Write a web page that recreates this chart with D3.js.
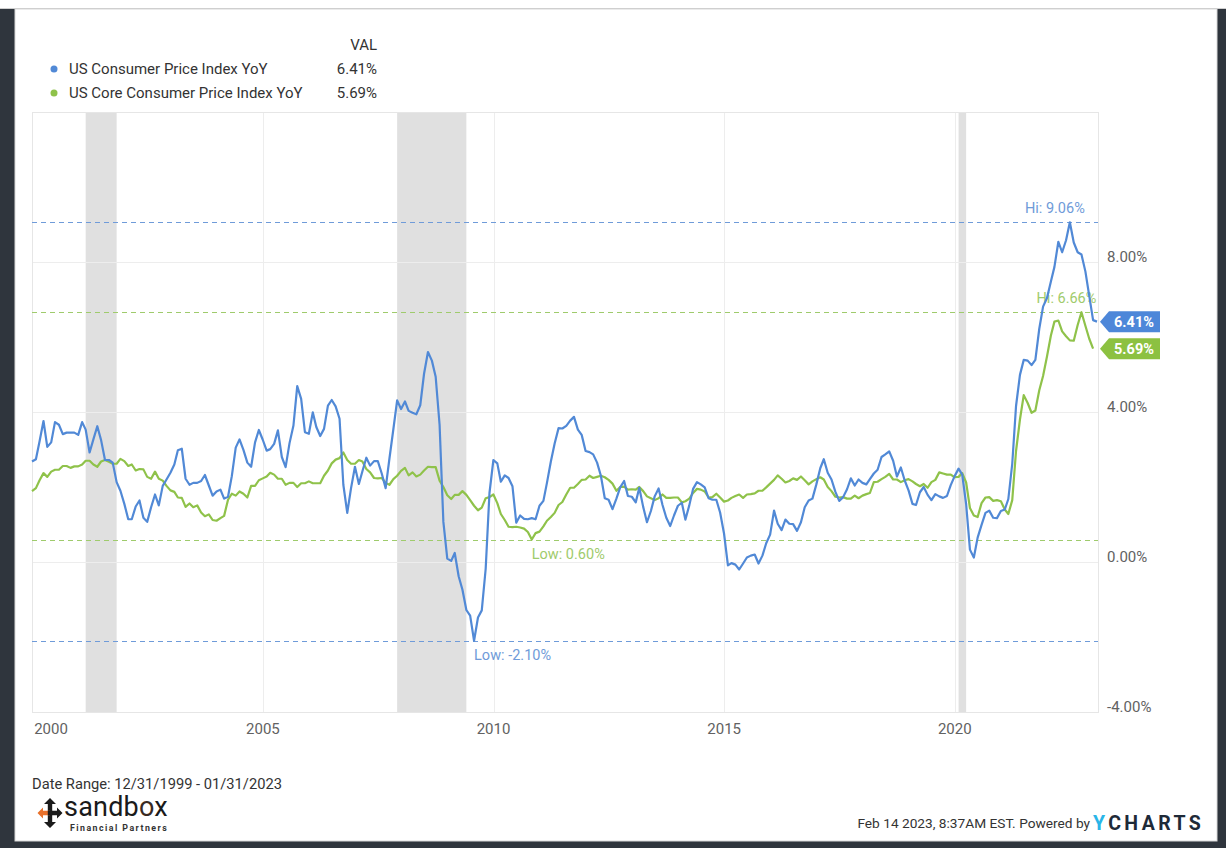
<!DOCTYPE html>
<html><head><meta charset="utf-8">
<script src="https://cdn.jsdelivr.net/npm/d3@7"></script>
<style>
html,body{margin:0;padding:0;background:#fff;}
svg{display:block;font-family:Roboto,"Noto Sans",sans-serif;}
</style></head><body>
<svg id="c" width="1226" height="848"></svg>
<script>
// ---- data ----
const seriesNames = ["US Consumer Price Index YoY", "US Core Consumer Price Index YoY"];
const startMonth = [1999, 11]; // Dec 1999, values at month end
const cpiYoY = [
 2.68,
 2.74,3.22,3.76,3.07,3.19,3.73,3.66,3.41,3.45,3.45,3.45,3.39,
 3.73,3.53,2.92,3.27,3.62,3.25,2.72,2.72,2.65,2.13,1.90,1.55,
 1.14,1.14,1.48,1.64,1.18,1.07,1.46,1.80,1.51,2.03,2.20,2.38,
 2.60,2.98,3.02,2.22,2.06,2.11,2.11,2.16,2.32,2.04,1.77,1.88,
 1.93,1.69,1.74,2.29,3.05,3.27,2.99,2.65,2.54,3.19,3.52,3.26,
 2.97,3.01,3.15,3.51,2.80,2.53,3.17,3.64,4.69,4.35,3.46,3.42,
 3.99,3.60,3.36,3.55,4.17,4.32,4.15,3.82,2.06,1.31,1.97,2.54,
 2.08,2.42,2.78,2.57,2.69,2.69,2.36,1.97,2.76,3.54,4.31,4.08,
 4.28,4.03,3.98,3.94,4.18,5.02,5.60,5.37,4.94,3.66,1.07,0.09,
 0.03,0.24,-0.38,-0.74,-1.28,-1.43,-2.10,-1.48,-1.29,-0.18,1.84,2.72,
 2.63,2.14,2.31,2.24,2.02,1.05,1.24,1.15,1.14,1.17,1.14,1.50,
 1.63,2.11,2.68,3.16,3.57,3.56,3.63,3.77,3.87,3.53,3.39,2.96,
 2.93,2.87,2.65,2.30,1.70,1.66,1.41,1.69,1.99,2.16,1.76,1.74,
 1.59,1.98,1.47,1.06,1.36,1.75,1.96,1.52,1.18,0.96,1.24,1.50,
 1.58,1.13,1.51,1.95,2.13,2.07,1.99,1.70,1.66,1.66,1.32,0.76,
 -0.09,-0.03,-0.07,-0.20,-0.04,0.12,0.17,0.20,-0.04,0.17,0.50,0.73,
 1.37,1.02,0.85,1.13,1.02,1.01,0.83,1.06,1.46,1.64,1.69,2.07,
 2.50,2.74,2.38,2.20,1.87,1.63,1.73,1.94,2.23,2.04,2.20,2.11,
 2.07,2.21,2.36,2.46,2.80,2.87,2.95,2.70,2.28,2.52,2.18,1.91,
 1.55,1.52,1.86,2.00,1.79,1.65,1.81,1.75,1.71,1.76,2.05,2.29,
 2.49,2.33,1.54,0.33,0.12,0.65,0.99,1.31,1.37,1.18,1.17,1.36,
 1.40,1.68,2.62,4.16,4.99,5.39,5.37,5.25,5.39,6.22,6.81,7.04,
 7.48,7.87,8.54,8.26,8.58,9.06,8.52,8.26,8.20,7.75,7.11,6.45,
 6.41
];
const coreYoY = [
 1.89,
 1.97,2.18,2.37,2.27,2.41,2.46,2.46,2.56,2.56,2.51,2.55,2.55,
 2.60,2.70,2.70,2.60,2.54,2.68,2.72,2.67,2.62,2.62,2.75,2.69,
 2.56,2.60,2.44,2.48,2.47,2.27,2.22,2.41,2.22,2.17,2.03,1.91,
 1.87,1.72,1.71,1.47,1.56,1.46,1.51,1.32,1.22,1.27,1.12,1.10,
 1.17,1.23,1.66,1.82,1.77,1.88,1.82,1.72,2.03,2.03,2.18,2.23,
 2.28,2.38,2.33,2.22,2.22,2.06,2.11,2.11,2.00,2.10,2.10,2.15,
 2.10,2.10,2.10,2.30,2.44,2.63,2.73,2.77,2.92,2.72,2.62,2.62,
 2.72,2.68,2.48,2.39,2.24,2.23,2.24,2.11,2.06,2.21,2.30,2.43,
 2.51,2.31,2.39,2.28,2.33,2.44,2.54,2.53,2.53,2.17,2.00,1.78,
 1.68,1.79,1.79,1.89,1.79,1.65,1.50,1.38,1.45,1.70,1.73,1.80,
 1.57,1.28,1.12,0.94,0.93,0.94,0.92,0.89,0.80,0.60,0.77,0.81,
 0.95,1.10,1.20,1.31,1.52,1.60,1.80,1.98,1.98,2.08,2.19,2.20,
 2.30,2.24,2.27,2.30,2.26,2.19,2.09,1.90,2.00,2.01,1.93,1.94,
 1.93,2.00,1.89,1.75,1.70,1.65,1.70,1.80,1.71,1.71,1.72,1.72,
 1.59,1.62,1.69,1.84,1.95,1.93,1.88,1.72,1.73,1.82,1.72,1.61,
 1.64,1.71,1.76,1.80,1.71,1.80,1.81,1.83,1.90,1.90,1.99,2.09,
 2.19,2.31,2.22,2.12,2.16,2.23,2.19,2.28,2.18,2.07,2.15,2.21,
 2.26,2.20,2.00,1.89,1.74,1.72,1.73,1.69,1.69,1.77,1.70,1.77,
 1.81,1.84,2.13,2.14,2.21,2.27,2.35,2.20,2.20,2.13,2.18,2.21,
 2.15,2.08,2.02,2.08,1.98,2.13,2.19,2.39,2.36,2.33,2.33,2.26,
 2.27,2.37,2.12,1.44,1.24,1.20,1.57,1.72,1.73,1.63,1.65,1.62,
 1.40,1.28,1.65,2.96,3.80,4.45,4.24,3.98,4.04,4.58,4.96,5.48,
 6.04,6.41,6.44,6.15,6.02,5.91,5.90,6.32,6.66,6.30,5.96,5.69
];
const recessions = [["2001-02-28","2001-10-31"],["2007-11-30","2009-05-31"],["2020-01-31","2020-03-31"]];
const yTicks = [-4, 0, 4, 8];
const yGrid = [-4, 0, 4, 8, 12];
const xTickYears = [2000, 2005, 2010, 2015, 2020];
const dateRangeText = "Date Range: 12/31/1999 - 01/31/2023";
const footerText = "Feb 14 2023, 8:37AM EST. Powered by";

// ---- setup ----
const svg = d3.select("#c");
const W = 1226, H = 848;
const plot = {l: 32, r: 1098, t: 112, b: 712};
const blue = "#5189d6", green = "#8fc24a";
const blueLight = "#6f9bd9", greenLight = "#9fcb6c";

const monthEnd = i => new Date(startMonth[0], startMonth[1] + i + 1, 0);
const cpi = cpiYoY.map((v, i) => ({d: monthEnd(i), v}));
const core = coreYoY.map((v, i) => ({d: monthEnd(i), v}));

const x = d3.scaleTime().domain([new Date(1999, 11, 31), new Date(2023, 0, 31)]).range([plot.l, plot.r - 1]);
const y = d3.scaleLinear().domain([-4, 12]).range([plot.b, plot.t]);
const fmt = v => v.toFixed(2) + "%";

// frame
svg.append("rect").attr("x", 0).attr("y", 0).attr("width", W).attr("height", H).attr("fill", "#fff");
svg.append("rect").attr("x", 0).attr("y", 9).attr("width", W).attr("height", H - 9).attr("fill", "#2f353d");
svg.append("rect").attr("x", 15).attr("y", 9).attr("width", 1202).attr("height", 832)
  .attr("fill", "#fff").attr("stroke", "#d8d8d8").attr("stroke-width", 1);
svg.append("line").attr("x1", 0).attr("x2", W).attr("y1", 8.5).attr("y2", 8.5).attr("stroke", "#cfcfcf");

// recession shading
svg.append("g").selectAll("rect").data(recessions).join("rect")
  .attr("x", d => x(new Date(d[0]))).attr("width", d => x(new Date(d[1])) - x(new Date(d[0])))
  .attr("y", plot.t).attr("height", plot.b - plot.t).attr("fill", "#e0e0e0");

// grid
const g = svg.append("g");
g.selectAll(".hg").data(yGrid).join("line")
  .attr("x1", plot.l).attr("x2", plot.r).attr("y1", d => Math.round(y(d)) + 0.5).attr("y2", d => Math.round(y(d)) + 0.5)
  .attr("stroke", "#ededed");
g.selectAll(".vg").data(xTickYears).join("line")
  .attr("x1", d => Math.round(x(new Date(d, 0, 1))) + 0.5).attr("x2", d => Math.round(x(new Date(d, 0, 1))) + 0.5)
  .attr("y1", plot.t).attr("y2", plot.b).attr("stroke", "#ededed");
svg.append("rect").attr("x", plot.l + 0.5).attr("y", plot.t + 0.5).attr("width", plot.r - plot.l).attr("height", plot.b - plot.t)
  .attr("fill", "none").attr("stroke", "#e6e6e6");

// y axis labels (right)
svg.append("g").selectAll("text").data(yTicks).join("text")
  .attr("x", 1107).attr("y", d => y(d)).attr("font-size", 15).attr("fill", "#626262")
  .text(d => d.toFixed(2) + "%");

// x axis labels
svg.append("g").selectAll("text").data(xTickYears).join("text")
  .attr("x", (d, i) => i === 0 ? x(new Date(d, 0, 1)) + 2 : x(new Date(d, 0, 1)))
  .attr("text-anchor", (d, i) => i === 0 ? "start" : "middle")
  .attr("y", 734).attr("font-size", 15).attr("fill", "#626262").text(d => d);

// hi/low reference lines
function extremes(data) {
  const hi = data.reduce((a, b) => b.v > a.v ? b : a);
  const lo = data.reduce((a, b) => b.v < a.v ? b : a);
  return {hi, lo};
}
const ec = extremes(cpi), ek = extremes(core);
const refs = [
  {p: ec.hi, c: blueLight, label: "Hi: ", kind: "hi"},
  {p: ec.lo, c: blueLight, label: "Low: ", kind: "lo"},
  {p: ek.hi, c: greenLight, label: "Hi: ", kind: "hi"},
  {p: ek.lo, c: greenLight, label: "Low: ", kind: "lo"}
];
const rg = svg.append("g");
refs.forEach(r => {
  const yy = Math.round(y(r.p.v)) + 0.5;
  rg.append("line").attr("x1", plot.l).attr("x2", plot.r).attr("y1", yy).attr("y2", yy)
    .attr("stroke", r.c).attr("stroke-width", 1.2).attr("stroke-dasharray", "5,4");
});

// lines
const line = d3.line().x(d => x(d.d)).y(d => y(d.v)).curve(d3.curveLinear);
svg.append("path").datum(core).attr("d", line).attr("fill", "none").attr("stroke", green)
  .attr("stroke-width", 2.2).attr("stroke-linejoin", "round");
svg.append("path").datum(cpi).attr("d", line).attr("fill", "none").attr("stroke", blue)
  .attr("stroke-width", 2.2).attr("stroke-linejoin", "round");

// ref labels
refs.forEach(r => {
  const yy = y(r.p.v);
  const t = rg.append("text").attr("font-size", 14.5).attr("fill", r.c).text(r.label + fmt(r.p.v));
  if (r.kind === "hi") t.attr("x", x(r.p.d) - 15).attr("y", yy - 9).attr("text-anchor", "middle");
  else t.attr("x", x(r.p.d)).attr("y", yy + 19).attr("text-anchor", "start");
});

// end badges
const badges = [
  {v: cpiYoY[cpiYoY.length - 1], c: "#4d87d9"},
  {v: coreYoY[coreYoY.length - 1], c: "#8cc141"}
];
badges.forEach(b => {
  const cy = y(b.v), x0 = 1100, h = 21;
  svg.append("path").attr("d", `M${x0},${cy} L${x0 + 9},${cy - h / 2} L1160,${cy - h / 2} L1160,${cy + h / 2} L${x0 + 9},${cy + h / 2} Z`)
    .attr("fill", b.c);
  svg.append("text").attr("x", 1134).attr("y", cy + 5).attr("text-anchor", "middle")
    .attr("font-size", 14.5).attr("font-weight", "bold").attr("fill", "#fff").text(fmt(b.v));
});

// legend
const lg = svg.append("g");
lg.append("text").attr("x", 377).attr("y", 50).attr("text-anchor", "end").attr("font-size", 15).attr("fill", "#333").text("VAL");
[[seriesNames[0], blue, cpiYoY[cpiYoY.length - 1], 74], [seriesNames[1], green, coreYoY[coreYoY.length - 1], 98]].forEach(([n, c, v, yy]) => {
  lg.append("circle").attr("cx", 54).attr("cy", yy - 5).attr("r", 3.5).attr("fill", c);
  lg.append("text").attr("x", 69).attr("y", yy).attr("font-size", 15).attr("fill", "#333").text(n);
  lg.append("text").attr("x", 377).attr("y", yy).attr("text-anchor", "end").attr("font-size", 15).attr("fill", "#333").text(fmt(v));
});

// footer
svg.append("text").attr("x", 32).attr("y", 789).attr("font-size", 14.7).attr("fill", "#333").text(dateRangeText);
svg.append("text").attr("x", 1090).attr("y", 828).attr("text-anchor", "end").attr("font-size", 13.7).attr("fill", "#333").text(footerText);
const yc = svg.append("text").attr("x", 1093).attr("y", 830).attr("font-size", 19.5).attr("font-weight", "bold").attr("letter-spacing", 3.4);
yc.append("tspan").attr("fill", "#29b5e8").text("Y");
yc.append("tspan").attr("fill", "#1e2a38").text("CHARTS");

// sandbox logo
const lgo = svg.append("g").attr("transform", "translate(50,813)");
const armV = "M-2.2,0 L-2.2,-9 L-6,-9 L0,-15 L6,-9 L2.2,-9 L2.2,0 Z";
const armH = "M-2.2,0 L-2.2,-7 L-5.5,-7 L0,-12.5 L5.5,-7 L2.2,-7 L2.2,0 Z";
lgo.append("path").attr("d", armV).attr("fill", "#1a1a1a");
lgo.append("path").attr("d", armV).attr("transform", "rotate(180)").attr("fill", "#1a1a1a");
lgo.append("path").attr("d", armH).attr("transform", "rotate(90)").attr("fill", "#1a1a1a");
lgo.append("path").attr("d", armH).attr("transform", "rotate(270)").attr("fill", "#e8702a");
lgo.append("rect").attr("x", -2.2).attr("y", -2.2).attr("width", 4.4).attr("height", 4.4).attr("fill", "#1a1a1a");
const sb = svg.append("text").attr("x", 64).attr("y", 816).attr("font-size", 27).attr("font-weight", 400).attr("fill", "#1a1a1a").attr("letter-spacing", 0.2);
sb.append("tspan").text("sandb");
sb.append("tspan").attr("fill", "#3a2a22").text("o");
sb.append("tspan").text("x");
svg.append("text").attr("x", 70).attr("y", 831).attr("font-size", 8.8).attr("font-weight", "bold").attr("letter-spacing", 1.45)
  .attr("fill", "#333").text("Financial Partners");
</script>
</body></html>
